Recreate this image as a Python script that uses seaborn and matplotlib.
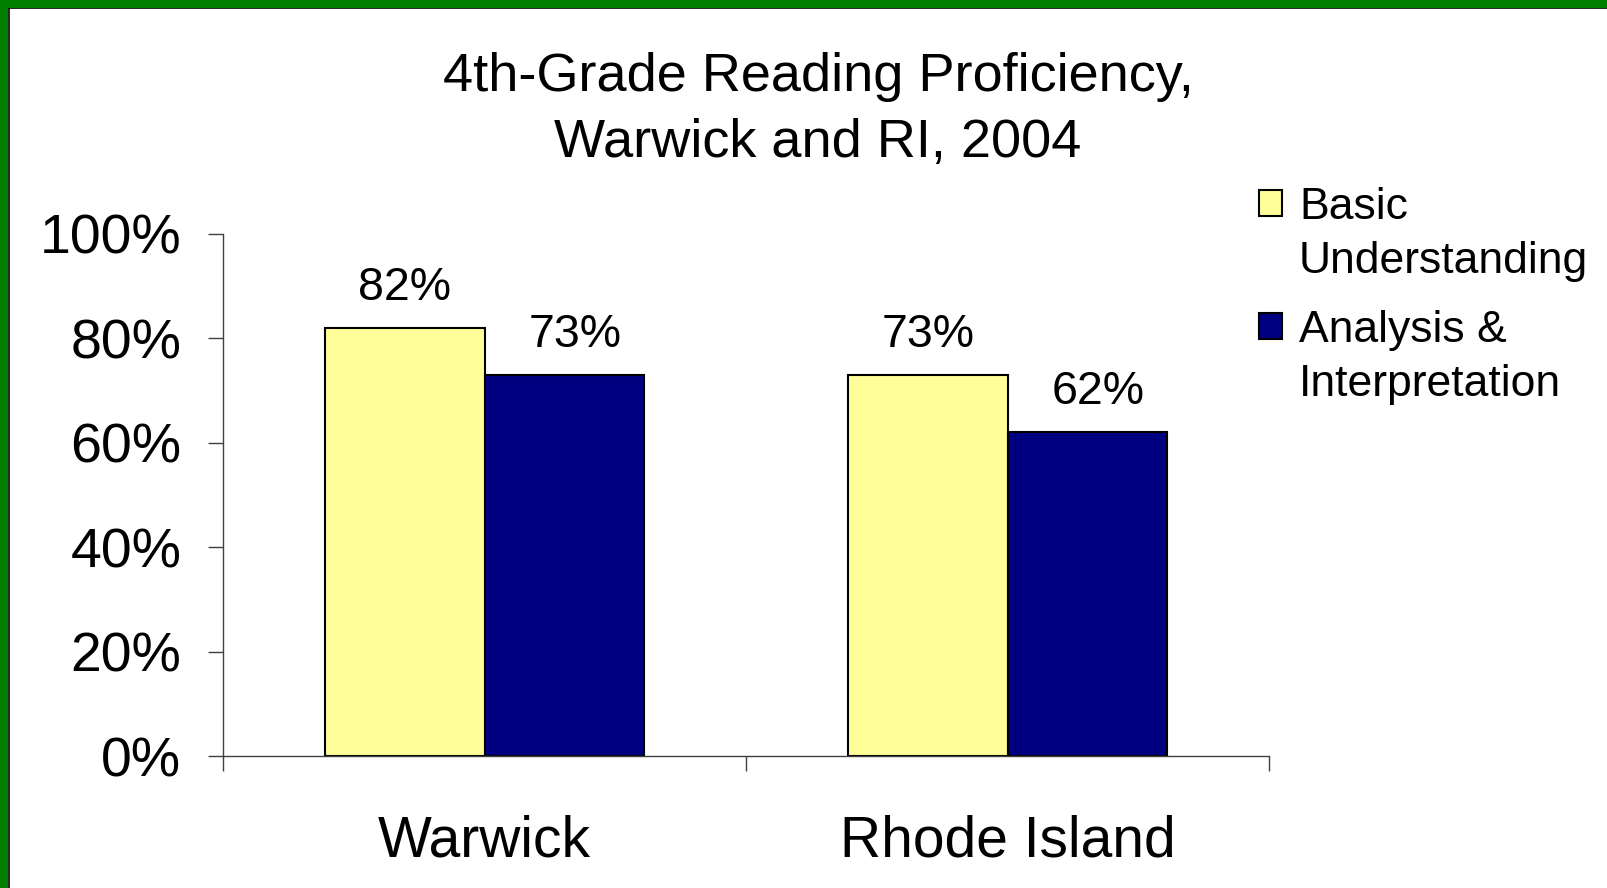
import matplotlib
matplotlib.use("Agg")
import matplotlib.pyplot as plt
import matplotlib.patches as mpatches
from matplotlib.legend_handler import HandlerPatch
from matplotlib.ticker import PercentFormatter, FixedLocator
import seaborn as sns
import pandas as pd

# data
places = ["Warwick", "Rhode Island"]
series = ["Basic\nUnderstanding", "Analysis &\nInterpretation"]
basic = [0.82, 0.73]
analysis = [0.73, 0.62]
colors = ["#FFFF99", "#000080"]

df = pd.DataFrame({
    "place": places * 2,
    "series": [series[0]] * 2 + [series[1]] * 2,
    "value": basic + analysis,
})

sns.set_style("white")
plt.rcParams["font.family"] = ["Liberation Sans", "DejaVu Sans"]
plt.rcParams["text.color"] = "black"

LEG_FS = 32
LEG_LS = 1.42


# legend square sits next to the first line of a two-line label
class TopPatch(HandlerPatch):
    def create_artists(self, legend, orig_handle, xdescent, ydescent, width, height, fontsize, trans):
        shift = 0.5 * LEG_LS * fontsize
        p = mpatches.Rectangle((-xdescent, -ydescent + shift), width, height)
        self.update_prop(p, orig_handle, legend)
        p.set_transform(trans)
        return [p]


fig = plt.figure(figsize=(16.07, 8.88), dpi=100)
ax = fig.add_axes([0.1388, 0.1486, 0.651, 0.588])

sns.barplot(data=df, x="place", y="value", hue="series", palette=colors, saturation=1,
            width=0.61, edgecolor="black", linewidth=1.5, ax=ax, legend=False)

for i, c in enumerate(ax.containers):
    anns = ax.bar_label(c, labels=[f"{v*100:.0f}%" for v in c.datavalues],
                        fontsize=33.5, padding=13, color="black")
    if i == 1:
        # the navy labels sit a little right of their bars in the original
        for a in anns:
            a.xyann = (7.5, 13)

ax.set_xlim(-0.5, 1.5)
ax.set_ylim(0, 1)
ax.set_yticks([0, 0.2, 0.4, 0.6, 0.8, 1.0])
ax.yaxis.set_major_formatter(PercentFormatter(1.0, decimals=0))
ax.tick_params(axis="y", labelsize=40, length=11, width=1, color="#404040", pad=19,
               left=True, labelcolor="black")
ax.xaxis.set_minor_locator(FixedLocator([-0.5, 0.5, 1.5]))
ax.tick_params(axis="x", which="major", labelsize=41, length=0, pad=42, labelcolor="black")
ax.tick_params(axis="x", which="minor", length=11, width=1, color="#404040", bottom=True)
ax.set_xlabel("")
ax.set_ylabel("")
for s in ["top", "right"]:
    ax.spines[s].set_visible(False)
for s in ["left", "bottom"]:
    ax.spines[s].set_color("#404040")
    ax.spines[s].set_linewidth(1)

fig.text(0.509, 1 - 110 / 888, "4th-Grade Reading Proficiency,\nWarwick and RI, 2004",
         ha="center", va="center", fontsize=39, linespacing=1.42, color="black")

handles = [mpatches.Patch(facecolor=colors[i], edgecolor="black", linewidth=1.5, label=series[i])
           for i in range(2)]
leg = fig.legend(handles=handles, loc="upper left", bbox_to_anchor=(1259 / 1607, 1 - 187 / 888),
                 frameon=False, fontsize=LEG_FS, handlelength=0.52, handleheight=0.52,
                 handletextpad=0.38, labelspacing=0.62, borderaxespad=0, borderpad=0,
                 handler_map={mpatches.Patch: TopPatch()})
for t in leg.get_texts():
    t.set_linespacing(LEG_LS)
    t.set_color("black")

# green slide border (top and left only visible in the crop)
fig.patches.append(mpatches.Rectangle((0, 1 - 8 / 888), 1, 8 / 888, transform=fig.transFigure,
                                      facecolor="#008000", edgecolor="none", zorder=10))
fig.patches.append(mpatches.Rectangle((0, 0), 8 / 1607, 1, transform=fig.transFigure,
                                      facecolor="#008000", edgecolor="none", zorder=10))
fig.add_artist(plt.Line2D([8 / 1607, 1], [1 - 8.5 / 888, 1 - 8.5 / 888], color="black", lw=1.2,
                          transform=fig.transFigure))
fig.add_artist(plt.Line2D([8.5 / 1607, 8.5 / 1607], [0, 1 - 8 / 888], color="black", lw=1.2,
                          transform=fig.transFigure))

fig.savefig("out.png", dpi=100)
